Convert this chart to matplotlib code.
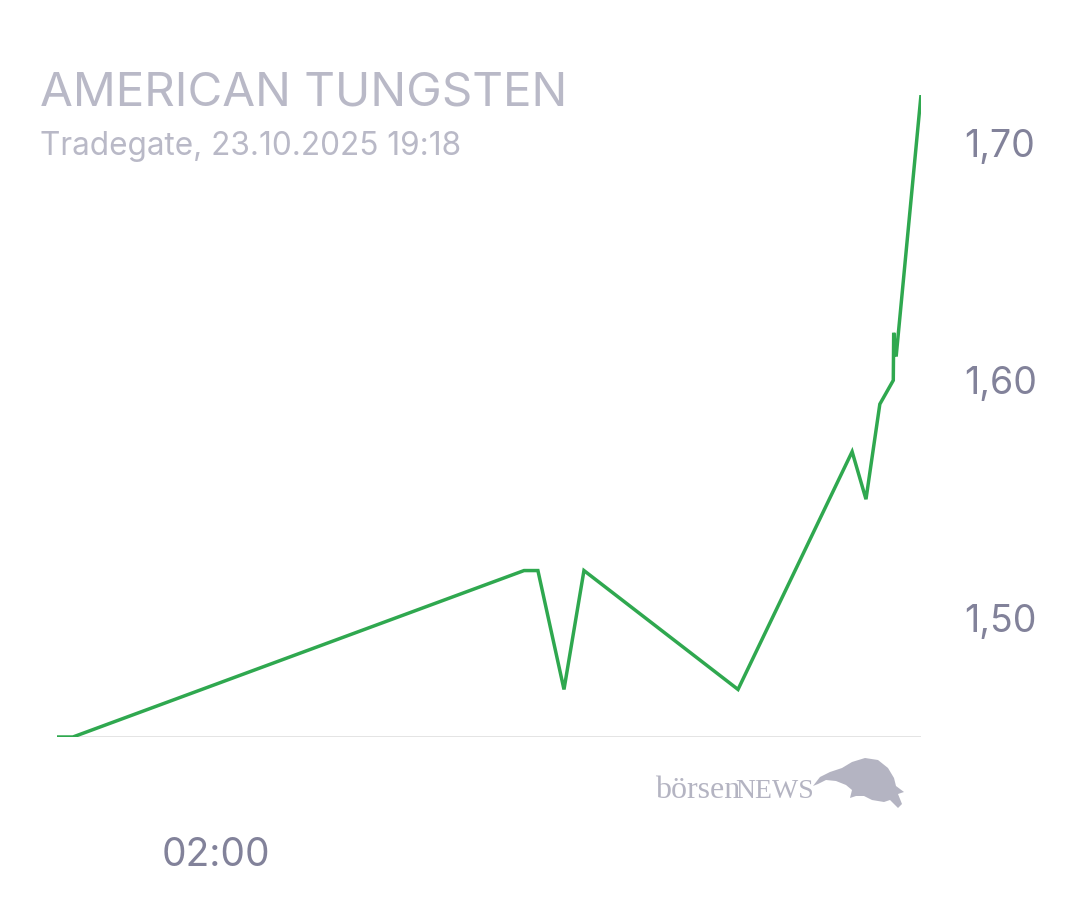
import matplotlib
matplotlib.use("Agg")
import matplotlib.pyplot as plt
from matplotlib.patches import Polygon
from matplotlib.ticker import FixedLocator, FuncFormatter

# Intraday quotes (hours since midnight of 23.10.2025; negative = previous evening)
hours = [-1.90, -1.51, 9.56, 9.90, 10.54, 11.03, 14.81, 17.61, 17.95, 18.29,
         18.62, 18.63, 18.69, 19.30]
prices = [1.45, 1.45, 1.52, 1.52, 1.47, 1.52, 1.47, 1.57, 1.55, 1.59,
          1.60, 1.62, 1.61, 1.72]

y_ticks = [1.50, 1.60, 1.70]
x_ticks = [2.0]
x_tick_labels = ["02:00"]

title = "AMERICAN TUNGSTEN"
subtitle = "Tradegate, 23.10.2025 19:18"

GREEN = "#2fa84f"
TITLE_GRAY = "#b9b9c7"
TICK_GRAY = "#82829a"
BASE_GRAY = "#dcdcdc"
LOGO_GRAY = "#b4b4c2"

plt.rcParams["font.family"] = ["Inter", "DejaVu Sans"]

fig = plt.figure(figsize=(10.8, 9.0), dpi=100)
ax = fig.add_axes([57 / 1080, 163 / 900, 864 / 1080, 642 / 900])

ax.plot(hours, prices, color=GREEN, linewidth=2.5, solid_joinstyle="miter", zorder=3)
ax.axhline(1.45, color=BASE_GRAY, linewidth=1.8, zorder=2)

ax.set_xlim(hours[0], hours[-1])
ax.set_ylim(1.45, 1.72)

for side in ax.spines.values():
    side.set_visible(False)

ax.yaxis.tick_right()
ax.yaxis.set_major_locator(FixedLocator(y_ticks))
ax.yaxis.set_major_formatter(FuncFormatter(lambda v, p: f"{v:.2f}".replace(".", ",")))
ax.xaxis.set_major_locator(FixedLocator(x_ticks))
ax.set_xticklabels(x_tick_labels)
ax.tick_params(axis="y", length=0, pad=31, labelsize=27, labelcolor=TICK_GRAY)
ax.tick_params(axis="x", length=0, pad=72, labelsize=28, labelcolor=TICK_GRAY)

fig.text(40 / 1080, 1 - 93 / 900, title, fontsize=34.3, color=TITLE_GRAY,
         ha="left", va="center")
fig.text(40 / 1080, 1 - 147 / 900, subtitle, fontsize=22.7, color=TITLE_GRAY,
         ha="left", va="center")

# börsenNEWS watermark
fig.text(655 / 1080, 1 - 791 / 900, "börsen", fontsize=23, color=LOGO_GRAY,
         family="Liberation Serif", ha="left", va="center")
fig.text(735 / 1080, 1 - 792 / 900, "NEWS", fontsize=20, color=LOGO_GRAY,
         family="Liberation Serif", ha="left", va="center")
bull = [(813, 786), (820, 777), (830, 772), (842, 768), (852, 762), (865, 758),
        (878, 760), (888, 768), (894, 778), (896, 786), (904, 792), (898, 794),
        (902, 804), (898, 808), (890, 800), (884, 802), (872, 800), (864, 796),
        (856, 796), (850, 798), (852, 790), (846, 785), (836, 781), (826, 780),
        (818, 784)]
fig.patches.append(Polygon([(x / 1080, 1 - y / 900) for x, y in bull], closed=True,
                           transform=fig.transFigure, facecolor=LOGO_GRAY,
                           edgecolor="none"))

fig.savefig("out.png", dpi=100, facecolor="white")
